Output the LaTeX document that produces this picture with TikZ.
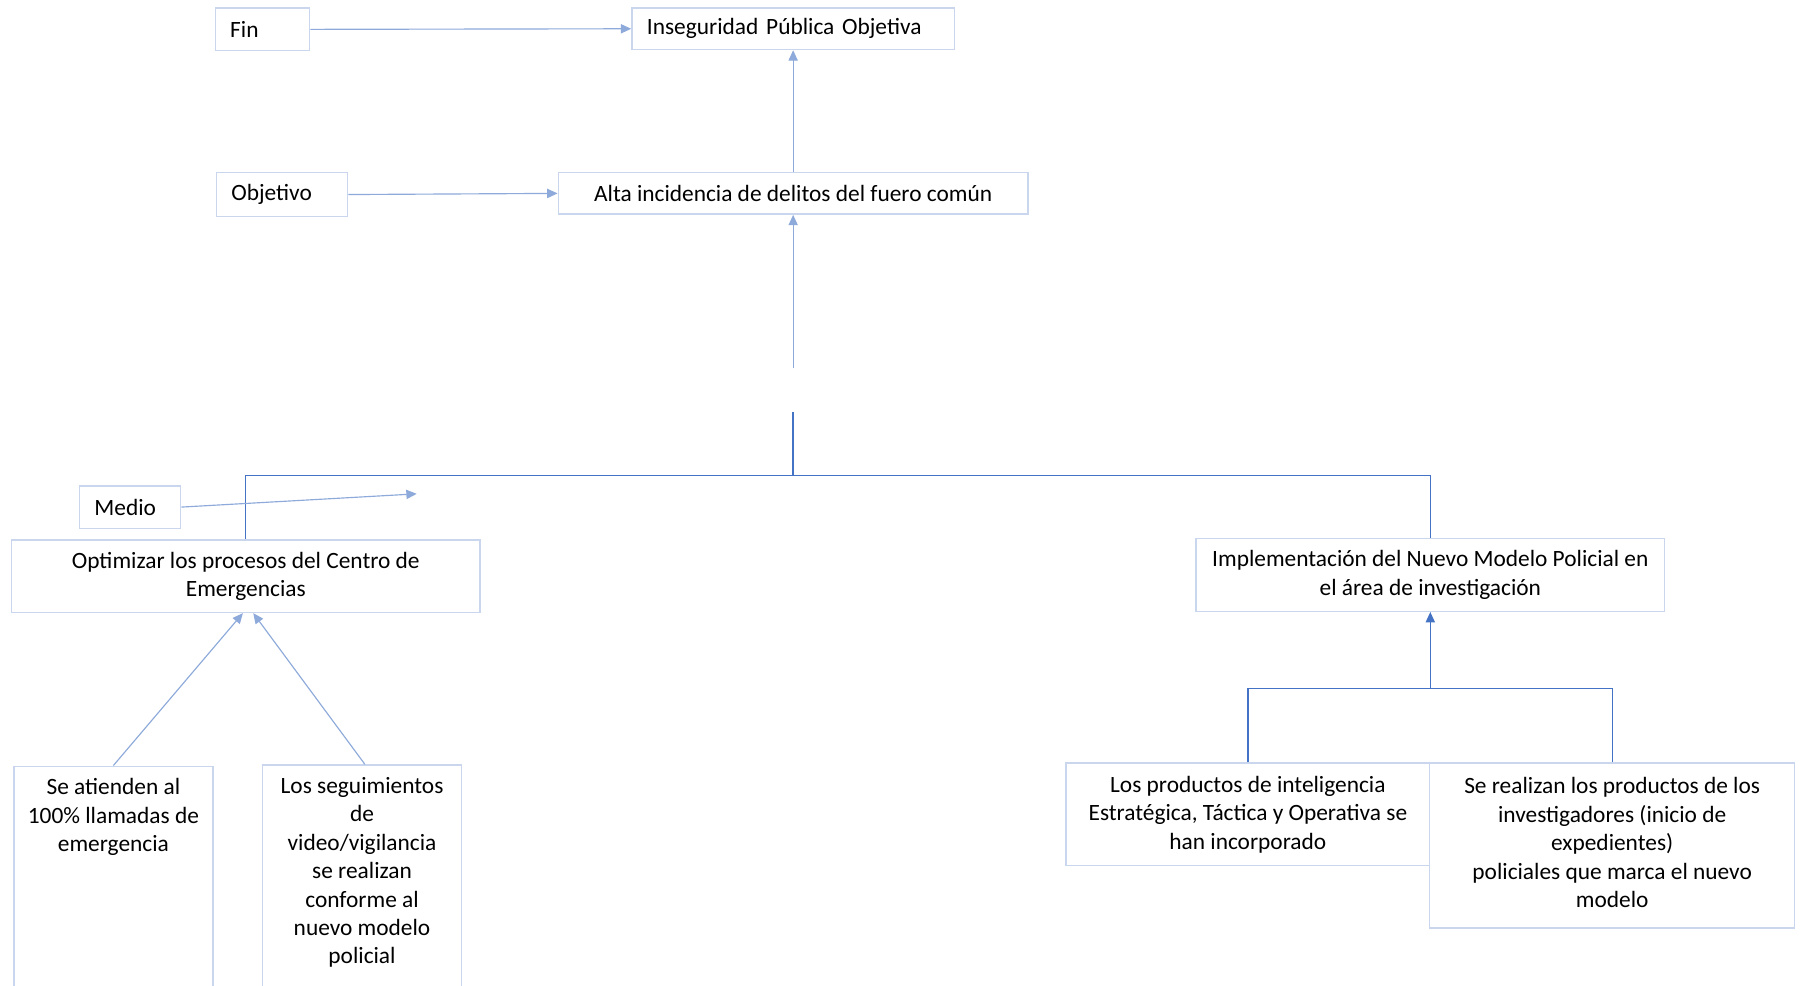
\documentclass[tikz,border=0pt]{standalone}
\usepackage{fontspec}
\setmainfont{Carlito}
\usetikzlibrary{arrows.meta}
\definecolor{boxc}{HTML}{C9D6EE}
\definecolor{lite}{HTML}{8EAADB}
\definecolor{dark}{HTML}{4472C4}
\tikzset{
 bx/.style={draw=boxc, line width=1.3pt, inner sep=0pt, font=\fontsize{20.3}{24.7}\selectfont},
 lbox/.style={bx, align=left, inner xsep=13pt},
 cbox/.style={bx, align=center},
 txt/.style={inner sep=0pt, align=center, font=\fontsize{20.3}{24.7}\selectfont},
 litearrow/.style={draw=lite, line width=1pt, -{Triangle[width=8pt,length=9pt]}},
 darkline/.style={draw=dark, line width=1.2pt},
 darkarrow/.style={darkline, -{Triangle[width=8pt,length=9pt]}},
}
\begin{document}
\begin{tikzpicture}[x=1pt,y=-1pt]
\useasboundingbox[fill=white] (0,0) rectangle (1568,855.7);
% nodes
\node[lbox, text width=56pt, minimum height=37pt] (fin) at (228,25.5) {\mbox{Fin}};
\node[lbox, text width=254pt, minimum height=36pt] (ins) at (689,25) {\mbox{Inseguridad Pública Objetiva}};
\node[lbox, text width=88pt, minimum height=38pt] (obj) at (245,169) {\mbox{Objetivo}};
\node[cbox, minimum width=408pt, minimum height=36pt] (alta) at (689,168) {Alta incidencia de delitos del fuero común};
\node[lbox, text width=62pt, minimum height=37pt] (medio) at (113,440.5) {\mbox{Medio}};
\node[cbox, minimum width=407pt, minimum height=63pt] (opt) at (213.5,500.5) {Optimizar los procesos del Centro de\\Emergencias};
\node[cbox, minimum width=407pt, minimum height=63pt] (impl) at (1242.5,499.5) {Implementación del Nuevo Modelo Policial en\\el área de investigación};
\node[bx, minimum width=173pt, minimum height=240pt, anchor=north] (aten) at (98.5,665) {};
\node[txt, anchor=north] (atentxt) at (98.5,676) {Se atienden al\\100\% llamadas de\\emergencia};
\node[bx, minimum width=173pt, minimum height=240pt, anchor=north] (segu) at (314.5,664) {};
\node[txt, anchor=north] (segutxt) at (314.5,675) {Los seguimientos\\de\\video/vigilancia\\se realizan\\conforme al\\nuevo modelo\\policial};
\node[cbox, minimum width=316pt, minimum height=89pt] (prod) at (1084,707.5) {Los productos de inteligencia\\Estratégica, Táctica y Operativa se\\han incorporado};
\node[cbox, minimum width=317pt, minimum height=143pt] (real) at (1400.5,734.5) {};
\node[txt] (realtxt) at (1400.5,732) {Se realizan los productos de los\\investigadores (inicio de\\expedientes)\\policiales que marca el nuevo\\modelo};
% coordinates
\coordinate (gapTop) at (689,320);
\coordinate (gapBot) at (689,358);
\coordinate (junc) at (689,413);
\coordinate (medTip) at (362,429);
\coordinate (bra) at (1242.5,598);
% connectors
\draw[litearrow] (fin.east) -- (ins.west);
\draw[litearrow] (obj.east) -- (alta.west);
\draw[litearrow] (alta.north) -- (ins.south);
\draw[litearrow] (gapTop) -- (alta.south);
\draw[darkline] (gapBot) -- (junc);
\draw[darkline] (opt.north) |- (junc) -| (impl.north);
\draw[litearrow] (medio.east) -- (medTip);
\draw[litearrow] (aten.north) -- ([xshift=-2.5pt]opt.south);
\draw[litearrow] ([xshift=2.5pt]segu.north) -- ([xshift=6.5pt]opt.south);
\draw[darkarrow] (bra) -- (impl.south);
\draw[darkline] (prod.north) |- (bra) -| (real.north);
\end{tikzpicture}
\end{document}
